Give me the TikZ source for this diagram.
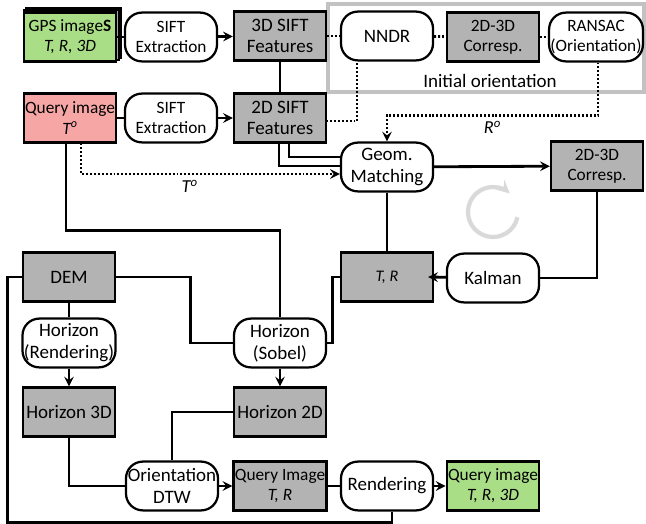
\documentclass[tikz,border=0pt]{standalone}
\usepackage{fontspec}
\setmainfont{Carlito}
\usetikzlibrary{calc}
\definecolor{verde}{HTML}{A9DE87}
\definecolor{rosa}{HTML}{F7A6A6}
\definecolor{cinza}{HTML}{B3B3B3}
\definecolor{moldura}{HTML}{C2C2C2}

\begin{document}
\begin{tikzpicture}[x=0.025cm,y=-0.025cm,>=stealth,
    caixa/.style={draw,line width=1.6pt,fill=cinza,minimum width=2.3cm,minimum height=1.22cm,
      align=center,inner sep=1pt,font=\fontsize{13.5}{15.5}\selectfont},
    processo/.style={caixa,fill=white,rounded corners=12pt},
    pequeno/.style={font=\fontsize{12.3}{14.3}\selectfont},
    linha/.style={line width=2pt},
    pontilhado/.style={line width=2pt,dash pattern=on 1.4pt off 1.4pt}]
        \useasboundingbox (0,0) rectangle (646,524);
        % Moldura da orientação inicial
        \draw[moldura,line width=2.2pt] (328,4) rectangle (644,92);
        \node[font=\fontsize{13.5}{15}\selectfont] (inicial) at (490,81) {Initial orientation};
        % Pilha de imagens GPS
        \draw[line width=0.8pt,fill=gray!70] (26,8) rectangle (121,58);
        \draw[line width=0.8pt,fill=gray!70] (24,10) rectangle (119,60);
        % Primeira linha
        \node[caixa,fill=verde,pequeno] (gps) at (70,37) {GPS image\textbf{S}\\\textit{T, R, 3D}};
        \node[processo,pequeno] (sift1) at (171,37) {SIFT\\Extraction};
        \node[caixa] (feat3d) at (280,36) {3D SIFT\\Features};
        \node[processo] (nndr) at (387,36) {NNDR};
        \node[caixa,pequeno] (corr1) at (493,37) {2D-3D\\Corresp.};
        \node[processo,pequeno] (ransac) at (596,37) {RANSAC\\(Orientation)};
        % Segunda linha
        \node[caixa,fill=rosa,pequeno] (query) at (70,118) {Query image\\\textit{T\textsuperscript{o}}};
        \node[processo,pequeno] (sift2) at (171,118) {SIFT\\Extraction};
        \node[caixa] (feat2d) at (280,118) {2D SIFT\\Features};
        % Ciclo de rastreamento
        \node[processo] (geom) at (387,167) {Geom.\\Matching};
        \node[caixa,pequeno] (corr2) at (597,166) {2D-3D\\Corresp.};
        \node[caixa,font=\fontsize{11.5}{13}\selectfont] (tr) at (387,277) {\textit{T, R}};
        \node[processo] (kalman) at (493,278) {Kalman};
        \draw[gray!30,line width=3pt,->] (493,212) ++(12:25) arc[start angle=12,end angle=312,radius=25];
        % Horizonte
        \node[caixa] (dem) at (69,277) {DEM};
        \node[processo] (horrend) at (69,343) {Horizon\\(Rendering)};
        \node[processo] (horsobel) at (280,343) {Horizon\\(Sobel)};
        \node[caixa] (hor3d) at (69,412) {Horizon 3D};
        \node[caixa] (hor2d) at (280,412) {Horizon 2D};
        % Última linha
        \node[processo] (dtw) at (172,486) {Orientation\\DTW};
        \node[caixa,pequeno] (qtr) at (280,486) {Query Image\\\textit{T, R}};
        \node[processo] (rendering) at (387,486) {Rendering};
        \node[caixa,fill=verde,pequeno] (result) at (493,486) {Query image\\\textit{T, R, 3D}};
        % Extração de características
        \draw[linha] (gps) -- (sift1);
        \draw[linha,->] (sift1) -- (feat3d);
        \draw[linha] (query) -- (sift2);
        \draw[linha,->] (sift2) -- (feat2d);
        \draw[linha] (feat3d) -- (feat2d);
        % Orientação inicial
        \draw[pontilhado] (feat3d) -- (nndr);
        \draw[pontilhado] (nndr) -- (corr1);
        \draw[pontilhado] (corr1) -- (ransac);
        \draw[pontilhado] ($(nndr.south)+(-30,-2)$) |- ($(feat2d.east)+(0,3)$);
        \draw[pontilhado,->] ($(ransac.south)+(2,0)$) -- ++(0,53) -| node[pos=0.25,below,font=\fontsize{13}{15}\selectfont] {\textit{R\textsuperscript{o}}} (geom.north);
        \draw[pontilhado,->] ($(query.south)+(11,0)$) |- node[pos=0.71,below,font=\fontsize{13}{15}\selectfont] {\textit{T\textsuperscript{o}}} ($(geom.west)+(0,7)$);
        % Casamento geométrico
        \draw[linha] ($(feat2d.south)+(9,0)$) |- ($(geom.west)+(2,-10)$);
        \draw[linha] ($(feat2d.south)+(-1,0)$) |- ($(geom.west)+(0,-1)$);
        \draw[linha,->] (geom) -- (corr2);
        \draw[linha] (corr2.south) |- (kalman.east);
        \draw[linha,->] (kalman) -- ($(tr.east)+(-6,0)$);
        \draw[linha] (geom) -- (tr);
        \draw[linha] (tr.west) -- ++(-7,0) |- (horsobel.east);
        % Ramo do horizonte
        \draw[linha] ($(query.south)+(-4,0)$) -- ++(0,87) -| (horsobel.north);
        \draw[linha] (dem.east) -- ++(74,0) |- (horsobel.west);
        \draw[linha] (dem) -- (horrend);
        \draw[linha] (dem.west) -- ++(-14,0) |- ($(rendering.south)+(5,11)$) -- ($(rendering.south)+(5,0)$);
        \draw[linha,->] (horrend) -- (hor3d);
        \draw[linha,->] (horsobel) -- (hor2d);
        \draw[linha] (hor3d.south) |- (dtw.west);
        \draw[linha] (hor2d.west) -| (dtw.north);
        % Saída
        \draw[linha,->] (dtw) -- (qtr);
        \draw[linha] (qtr) -- (rendering);
        \draw[linha,->] (rendering) -- (result);
    \end{tikzpicture}
\end{document}
